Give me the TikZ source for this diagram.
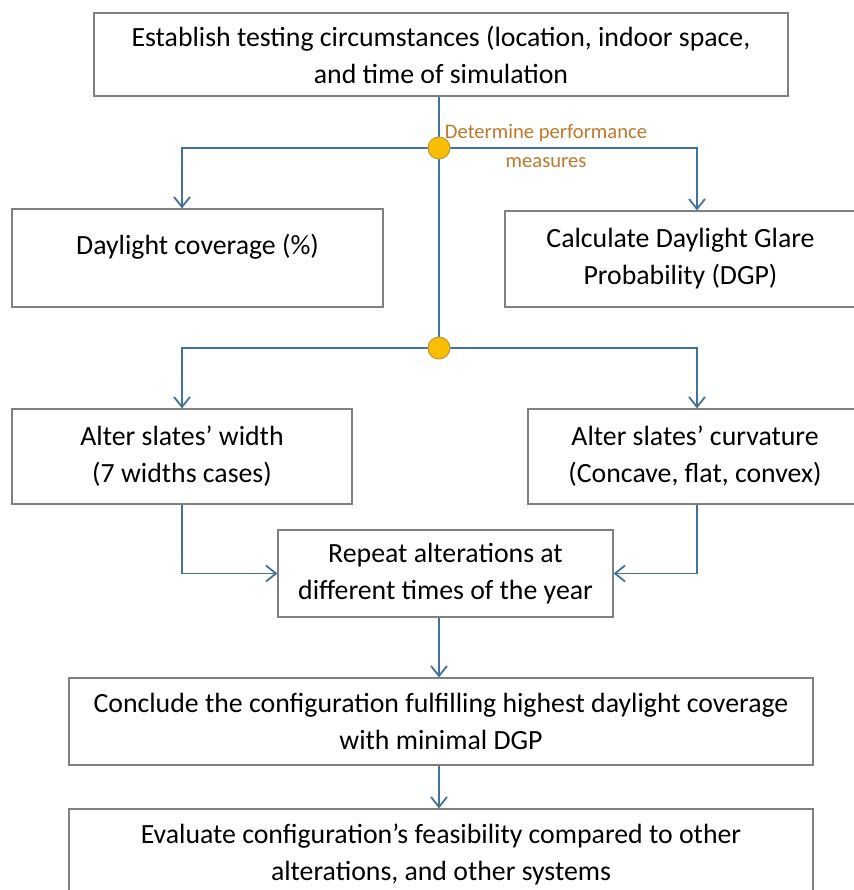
\documentclass[tikz,border=0pt]{standalone}
\usepackage{fontspec}
\setmainfont{Carlito}
\usetikzlibrary{arrows.meta}

\definecolor{flowblue}{RGB}{65,113,156}
\definecolor{boxgray}{RGB}{128,128,128}
\definecolor{dotfill}{RGB}{250,190,0}
\definecolor{dotline}{RGB}{190,150,60}
\definecolor{labelbrown}{RGB}{192,120,40}

\tikzset{
    box/.style={draw=boxgray, line width=0.6pt, align=center, inner sep=1pt,
        font=\fontsize{13.9}{18.5}\selectfont},
    flow/.style={draw=flowblue, line width=0.9pt, -{Straight Barb[length=5pt,width=8pt]}},
    link/.style={draw=flowblue, line width=0.9pt},
    junction/.style={circle, fill=dotfill, draw=dotline, line width=0.5pt,
        minimum size=11pt, inner sep=0pt}
}

\begin{document}
\begin{tikzpicture}[x=0.5pt,y=-0.5pt]
            \useasboundingbox (0,0) rectangle (853,890);

            % Boxes
            \node[box, minimum width=347pt, minimum height=41.5pt] (establish) at (441,54.5)
                {Establish testing circumstances (location, indoor space,\\ and time of simulation};
            \node[box, minimum width=185.5pt, minimum height=49pt, text depth=14pt] (coverage) at (197.5,258)
                {Daylight coverage (\%)};
            \node[box, minimum width=175.5pt, minimum height=48pt] (glare) at (680.5,259)
                {Calculate Daylight Glare\\ Probability (DGP)};
            \node[box, minimum width=170pt, minimum height=47.5pt] (slatwidth) at (182,456.5)
                {Alter slates' width\\ (7 widths cases)};
            \node[box, minimum width=167pt, minimum height=47.5pt] (curvature) at (695,456.5)
                {Alter slates' curvature\\ (Concave, flat, convex)};
            \node[box, minimum width=167.5pt, minimum height=43.5pt] (repeat) at (445.5,573.5)
                {Repeat alterations at\\ different times of the year};
            \node[box, minimum width=372pt, minimum height=43.5pt] (conclude) at (441,721.5)
                {Conclude the configuration fulfilling highest daylight coverage\\ with minimal DGP};
            \node[box, minimum width=372pt, minimum height=45pt] (evaluate) at (441,854)
                {Evaluate configuration's feasibility compared to other\\ alterations, and other systems};

            % Branch points
            \coordinate (j1) at (439,148);
            \coordinate (j2) at (439,348);
            \coordinate (L1) at (182,148);
            \coordinate (R1) at (697,148);
            \coordinate (L2) at (182,348);
            \coordinate (R2) at (697,348);

            % Connectors
            \draw[link] (establish.south -| j1) -- (j2);
            \draw[flow] (j1) -- (L1) -- (L1 |- coverage.north);
            \draw[flow] (j1) -- (R1) -- (R1 |- glare.north);
            \draw[flow] (j2) -- (L2) -- (L2 |- slatwidth.north);
            \draw[flow] (j2) -- (R2) -- (R2 |- curvature.north);
            \draw[flow] (L2 |- slatwidth.south) |- (repeat.west);
            \draw[flow] (R2 |- curvature.south) |- (repeat.east);
            \draw[flow] (repeat.south -| j1) -- (j1 |- conclude.north);
            \draw[flow] (conclude.south -| j1) -- (j1 |- evaluate.north);

            \node[junction] (dot1) at (j1) {};
            \node[junction] (dot2) at (j2) {};

            \node[text=labelbrown, align=center, font=\fontsize{10.3}{14.5}\selectfont] (measures) at (546,146)
                {Determine performance\\ measures};

        \end{tikzpicture}
\end{document}
